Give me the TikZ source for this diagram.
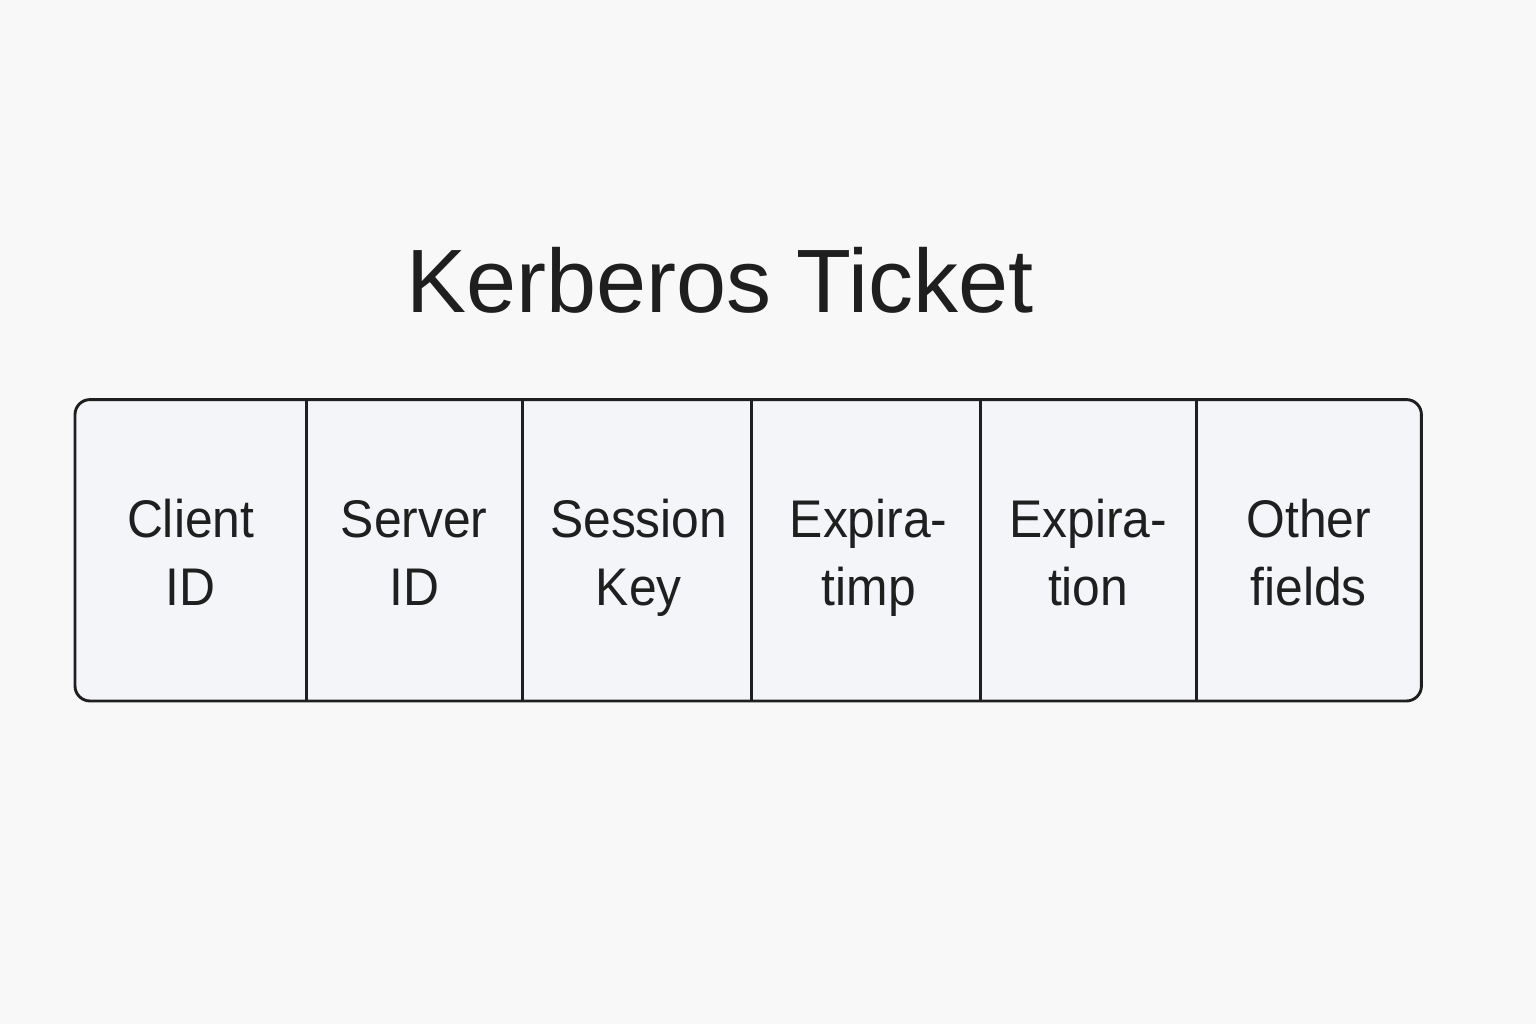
\documentclass[tikz,border=0pt]{standalone}
\usepackage{fontspec}
\setmainfont{Liberation Sans}
\newfontfamily\cellfont[FakeStretch=0.94]{Liberation Sans}
\definecolor{bgc}{HTML}{F8F8F8}
\definecolor{cellfill}{HTML}{F3F5F9}
\definecolor{ink}{HTML}{1F1F1F}
\begin{document}
\begin{tikzpicture}[x=1pt,y=1pt,
  cell/.style={rectangle, draw=none, fill=none, inner sep=0pt, minimum height=301pt, anchor=south west},
  celltext/.style={align=center, anchor=base, text=ink, font=\cellfont\fontsize{53}{68}\selectfont, inner sep=0pt},
  frame/.style={draw=ink, line width=2.9pt, fill=cellfill, rounded corners=15pt},
  divider/.style={draw=ink, line width=2.9pt}]
\fill[bgc] (0,0) rectangle (1536,1024);
\useasboundingbox (0,0) rectangle (1536,1024);
% cells
\node[cell, minimum width=231pt] (c1) at (75,323) {};
\node[cell, minimum width=216pt] (c2) at (306,323) {};
\node[cell, minimum width=229pt] (c3) at (522,323) {};
\node[cell, minimum width=229pt] (c4) at (751,323) {};
\node[cell, minimum width=216pt] (c5) at (980,323) {};
\node[cell, minimum width=225pt] (c6) at (1196,323) {};
% frame
\draw[frame] (c1.south west) rectangle (c6.north east);
\foreach \i in {1,...,5}{\draw[divider] (c\i.north east) -- (c\i.south east);}
% texts
\node[celltext] (t1) at ([yshift=-55.5pt]c1.center) {Client\\ID};
\node[celltext] (t2) at ([yshift=-55.5pt]c2.center) {Server\\ID};
\node[celltext] (t3) at ([xshift=2pt,yshift=-55.5pt]c3.center) {Session\\Key};
\node[celltext] (t4) at ([xshift=3pt,yshift=-55.5pt]c4.center) {Expira-\\timp};
\node[celltext] (t5) at ([yshift=-55.5pt]c5.center) {Expira-\\tion};
\node[celltext] (t6) at ([yshift=-55.5pt]c6.center) {Other\\fields};
% title
\node[anchor=base, text=ink, font=\fontsize{90}{100}\selectfont, inner sep=0pt] (title) at (720,711) {Kerberos Ticket};
\end{tikzpicture}
\end{document}
